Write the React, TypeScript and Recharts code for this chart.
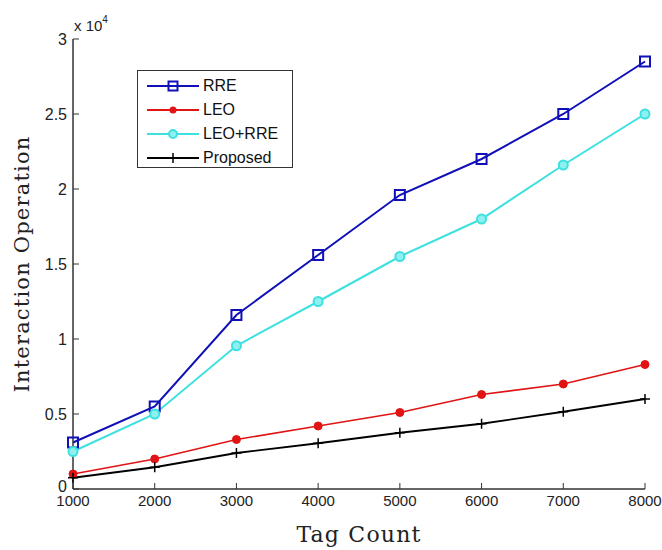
import React from 'react';
import { LineChart, Line, XAxis, YAxis, Legend } from 'recharts';

const tagCounts = [1000, 2000, 3000, 4000, 5000, 6000, 7000, 8000];
const rre = [3100, 5500, 11600, 15600, 19600, 22000, 25000, 28500];
const leo = [1000, 2000, 3300, 4200, 5100, 6300, 7000, 8300];
const leoRre = [2500, 5000, 9550, 12500, 15500, 18000, 21600, 25000];
const proposed = [750, 1450, 2400, 3050, 3750, 4350, 5150, 6000];
const yTicks = [0, 5000, 10000, 15000, 20000, 25000, 30000];

const seriesNames = ['RRE', 'LEO', 'LEO+RRE', 'Proposed'];
const colors = ['#1010b8', '#e01414', '#3ee0e0', '#000000'];

const data = tagCounts.map((t, i) => ({
  t,
  rre: rre[i],
  leo: leo[i],
  leoRre: leoRre[i],
  proposed: proposed[i],
}));

const AX = '#333333';
const TICK_FONT = '"Liberation Sans Narrow", "Liberation Sans", Arial, sans-serif';
const LABEL_FONT = '"DejaVu Serif", "Liberation Serif", serif';
const TL = 6;

const fmtY = (v: number) => String(v / 10000);

const BottomTick = (p: any) => {
  const { x, y, payload } = p;
  const ay = y - 6;
  return (
    <g>
      <line x1={x} x2={x} y1={ay} y2={ay - TL} stroke={AX} strokeWidth={1} />
      <text x={x} y={y} dy="0.75em" textAnchor="middle" fontFamily={TICK_FONT} fontSize={15} fill="#222">
        {payload.value}
      </text>
    </g>
  );
};

const TopTick = (p: any) => {
  const { x, y } = p;
  return <line x1={x} x2={x} y1={y} y2={y + TL} stroke={AX} strokeWidth={1} />;
};

const LeftTick = (p: any) => {
  const { x, y, payload } = p;
  const ax = x + 6;
  const lift = payload.value === 0 ? -3 : 0;
  return (
    <g>
      <line x1={ax} x2={ax + TL} y1={y} y2={y} stroke={AX} strokeWidth={1} />
      <text x={x} y={y + lift} dy="0.35em" textAnchor="end" fontFamily={TICK_FONT} fontSize={16} fill="#222">
        {fmtY(payload.value)}
      </text>
    </g>
  );
};

const RightTick = (p: any) => {
  const { x, y } = p;
  return <line x1={x} x2={x - TL} y1={y} y2={y} stroke={AX} strokeWidth={1} />;
};

const SquareDot = (p: any) => {
  const { cx, cy, index } = p;
  if (cx == null || cy == null) return <g key={`s${index}`} />;
  return <rect key={`s${index}`} x={cx - 5} y={cy - 5} width={10} height={10} fill="none" stroke={colors[0]} strokeWidth={2} />;
};

const RedDot = (p: any) => {
  const { cx, cy, index } = p;
  if (cx == null || cy == null) return <g key={`r${index}`} />;
  return <circle key={`r${index}`} cx={cx} cy={cy} r={4} fill={colors[1]} stroke={colors[1]} strokeWidth={1} />;
};

const CyanDot = (p: any) => {
  const { cx, cy, index } = p;
  if (cx == null || cy == null) return <g key={`c${index}`} />;
  return <circle key={`c${index}`} cx={cx} cy={cy} r={4.5} fill="#8ef0f0" stroke={colors[2]} strokeWidth={2} />;
};

const PlusDot = (p: any) => {
  const { cx, cy, index } = p;
  if (cx == null || cy == null) return <g key={`p${index}`} />;
  return (
    <g key={`p${index}`}>
      <line x1={cx - 5} x2={cx + 5} y1={cy} y2={cy} stroke="#000" strokeWidth={1.5} />
      <line x1={cx} x2={cx} y1={cy - 5} y2={cy + 5} stroke="#000" strokeWidth={1.5} />
    </g>
  );
};

const legendMarker = (i: number) => {
  const c = colors[i];
  const cx = 26;
  const cy = 8;
  if (i === 0) return <rect x={cx - 4.5} y={cy - 4.5} width={9} height={9} fill="none" stroke={c} strokeWidth={2} />;
  if (i === 1) return <circle cx={cx} cy={cy} r={3.5} fill={c} />;
  if (i === 2) return <circle cx={cx} cy={cy} r={4} fill="#8ef0f0" stroke={c} strokeWidth={2} />;
  return (
    <g>
      <line x1={cx - 4} x2={cx + 4} y1={cy} y2={cy} stroke="#000" strokeWidth={1.5} />
      <line x1={cx} x2={cx} y1={cy - 5} y2={cy + 5} stroke="#000" strokeWidth={1.5} />
    </g>
  );
};

const LegendBox = () => (
  <div
    style={{
      border: '1px solid #333',
      background: '#fff',
      width: 156,
      height: 98,
      boxSizing: 'border-box',
      padding: '3px 0 0 9px',
      fontFamily: '"Liberation Sans", Arial, sans-serif',
      fontSize: 16,
      color: '#111',
      textAlign: 'left',
    }}
  >
    {seriesNames.map((n, i) => (
      <div key={n} style={{ display: 'flex', alignItems: 'center', height: 24 }}>
        <svg width={56} height={16} style={{ display: 'block' }}>
          <line x1={0} x2={52} y1={8} y2={8} stroke={colors[i]} strokeWidth={2} />
          {legendMarker(i)}
        </svg>
        <span style={{ lineHeight: '16px' }}>{n}</span>
      </div>
    ))}
  </div>
);

export default function App() {
  return (
    <div style={{ position: 'absolute', left: 0, top: 0, width: 662, height: 550, background: '#fff' }}>
      <LineChart width={662} height={550} data={data} margin={{ top: 39, right: 17, bottom: 0, left: 0 }}>
        <XAxis
          dataKey="t"
          type="number"
          domain={[1000, 8000]}
          ticks={tagCounts}
          height={61}
          tickSize={0}
          tickMargin={6}
          tickLine={false}
          axisLine={{ stroke: AX, strokeWidth: 1.5 }}
          tick={BottomTick}
          interval={0}
          label={{
            content: (lp: any) => {
              const vb = lp.viewBox || {};
              const cx = vb.x + vb.width / 2;
              return (
                <text x={cx} y={542} textAnchor="middle" fontFamily={LABEL_FONT} fontSize={22} fill="#222" letterSpacing={1.2}>
                  Tag Count
                </text>
              );
            },
          }}
        />
        <XAxis
          xAxisId="top"
          orientation="top"
          dataKey="t"
          type="number"
          domain={[1000, 8000]}
          ticks={tagCounts}
          height={0}
          tickSize={0}
          tickMargin={0}
          tickLine={false}
          axisLine={{ stroke: AX, strokeWidth: 1.5 }}
          tick={TopTick}
          interval={0}
        />
        <YAxis
          type="number"
          domain={[0, 30000]}
          ticks={yTicks}
          width={73}
          tickSize={0}
          tickMargin={6}
          tickLine={false}
          axisLine={{ stroke: AX, strokeWidth: 1.5 }}
          tick={LeftTick}
          interval={0}
          label={{
            content: (lp: any) => {
              const vb = lp.viewBox || {};
              const cy = vb.y + vb.height / 2;
              const cx = 22;
              return (
                <g>
                  <text
                    x={cx}
                    y={cy}
                    transform={`rotate(-90 ${cx} ${cy})`}
                    textAnchor="middle"
                    dominantBaseline="central"
                    fontFamily={LABEL_FONT}
                    fontSize={21}
                    fill="#222"
                    letterSpacing={1.2}
                  >
                    Interaction Operation
                  </text>
                  <text x={vb.x + vb.width + 1} y={31} fontFamily={TICK_FONT} fontSize={15} fill="#222">
                    x 10
                    <tspan dy={-8} fontSize={10}>4</tspan>
                  </text>
                </g>
              );
            },
          }}
        />
        <YAxis
          yAxisId="right"
          orientation="right"
          type="number"
          domain={[0, 30000]}
          ticks={yTicks}
          width={0}
          tickSize={0}
          tickMargin={0}
          tickLine={false}
          axisLine={{ stroke: AX, strokeWidth: 1.5 }}
          tick={RightTick}
          interval={0}
        />
        <Legend
          verticalAlign="middle"
          align="center"
          layout="vertical"
          content={() => <LegendBox />}
          wrapperStyle={{ position: 'absolute', left: 137, top: 70, width: 'auto', height: 'auto' }}
        />
        <Line dataKey="rre" name="RRE" stroke={colors[0]} strokeWidth={2} dot={SquareDot} isAnimationActive={false} />
        <Line dataKey="leo" name="LEO" stroke={colors[1]} strokeWidth={1.6} dot={RedDot} isAnimationActive={false} />
        <Line dataKey="leoRre" name="LEO+RRE" stroke={colors[2]} strokeWidth={2} dot={CyanDot} isAnimationActive={false} />
        <Line dataKey="proposed" name="Proposed" stroke={colors[3]} strokeWidth={1.8} dot={PlusDot} isAnimationActive={false} />
      </LineChart>
    </div>
  );
}
